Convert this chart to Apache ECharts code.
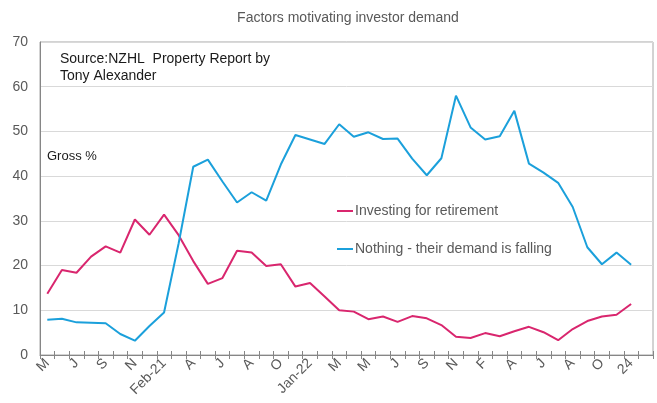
<!DOCTYPE html>
<html>
<head>
<meta charset="utf-8">
<script src="https://cdn.jsdelivr.net/npm/echarts@6/dist/echarts.min.js"></script>
<style>
html,body{margin:0;padding:0;background:#fff;}
#chart{width:657px;height:403px;}
</style>
</head>
<body>
<div id="chart"></div>
<script>
// Month categories (one per survey month; last category has no data)
var categories = ['May-20','Jun-20','Jul-20','Aug-20','Sep-20','Oct-20','Nov-20','Dec-20',
  'Feb-21','Mar-21','Apr-21','May-21','Jun-21','Jul-21','Aug-21','Sep-21','Oct-21','Nov-21',
  'Jan-22','Feb-22','Mar-22','Apr-22','May-22','Jun-22','Jul-22','Aug-22','Sep-22','Oct-22','Nov-22','Dec-22',
  'Feb-23','Mar-23','Apr-23','May-23','Jun-23','Jul-23','Aug-23','Sep-23','Oct-23','Nov-23',
  'Jan-24','Feb-24'];
// Displayed tick labels
var tickLabels = ['M','','J','','S','','N','','Feb-21','','A','','J','','A','','O','',
  'Jan-22','','M','','M','','J','','S','','N','','F','','A','','J','','A','','O','','24',''];
var yTicks = [0,10,20,30,40,50,60,70];

var retirement = [13.7,19.0,18.4,22.0,24.3,22.9,30.3,26.9,31.4,26.8,21.0,15.9,17.2,23.3,22.9,19.9,20.3,15.3,16.1,13.1,
  10.0,9.7,8.0,8.6,7.4,8.7,8.2,6.7,4.1,3.8,4.9,4.2,5.3,6.3,5.1,3.3,5.8,7.6,8.6,9.0,11.4];
var nothing = [7.9,8.1,7.3,7.2,7.1,4.7,3.2,6.5,9.5,25.0,42.1,43.7,38.8,34.1,36.4,34.5,42.6,49.2,48.2,47.2,
  51.6,48.8,49.8,48.3,48.4,43.9,40.2,44.0,58.0,50.9,48.2,48.9,54.6,42.8,40.8,38.5,33.1,24.1,20.3,22.9,20.2];

var seriesNames = ['Investing for retirement','Nothing - their demand is falling'];
var titleText = 'Factors motivating investor demand';
var noteLines = ['Source:NZHL  Property Report by','Tony Alexander'];
var unitText = 'Gross %';

var chart = echarts.init(document.getElementById('chart'), null, {renderer:'canvas'});
var FONT = '"Liberation Sans", Arial, sans-serif';
var option = {
  animation: false,
  backgroundColor: '#ffffff',
  textStyle: {fontFamily: FONT},
  grid: {left: 40, right: 4, top: 42, bottom: 48, show: true, borderColor: '#a6a6a6', borderWidth: 1, containLabel: false},
  legend: {
    orient: 'vertical', left: 337, top: 203, padding: 0, itemWidth: 16, itemHeight: 2, itemGap: 22, icon: 'rect',
    textStyle: {color: '#595959', fontSize: 14, fontFamily: FONT, lineHeight: 16, padding: [0, 0, 0, -3]},
    data: seriesNames
  },
  xAxis: [{
    type: 'category', data: categories, position: 'bottom', boundaryGap: true,
    axisLine: {show: true, lineStyle: {color: '#868686', width: 1}},
    axisTick: {show: true, interval: 0, length: 4, lineStyle: {color: '#868686'}},
    axisLabel: {interval: 0, rotate: 45, margin: 6, color: '#595959', fontSize: 14, fontFamily: FONT,
      formatter: function (v, i) { return tickLabels[i]; }},
    splitLine: {show: false}
  }, {
    type: 'category', data: categories, position: 'bottom', boundaryGap: true,
    axisLine: {show: false},
    axisTick: {show: true, inside: true, interval: 0, length: 4, lineStyle: {color: '#868686'}},
    axisLabel: {show: false},
    splitLine: {show: false}
  }],
  yAxis: {
    type: 'value', min: yTicks[0], max: yTicks[yTicks.length - 1], interval: 10,
    axisLine: {show: true, lineStyle: {color: '#868686'}},
    axisTick: {show: false},
    axisLabel: {color: '#595959', fontSize: 14, margin: 12, fontFamily: FONT},
    splitLine: {show: true, lineStyle: {color: '#d9d9d9', width: 1}}
  },
  series: [{
    name: seriesNames[0], type: 'line', data: retirement, symbol: 'none',
    lineStyle: {color: '#d9266e', width: 2}, itemStyle: {color: '#d9266e'}
  }, {
    name: seriesNames[1], type: 'line', data: nothing, symbol: 'none',
    lineStyle: {color: '#1ba0db', width: 2}, itemStyle: {color: '#1ba0db'}
  }],
  graphic: [
    {type: 'text', x: 348, y: 18, style: {text: titleText, x: 0, y: 0, textAlign: 'center', textVerticalAlign: 'middle', fill: '#595959', font: '14px ' + FONT}},
    {type: 'text', x: 60, y: 59, style: {text: noteLines[0], textAlign: 'left', textVerticalAlign: 'middle', fill: '#1a1a1a', font: '14px ' + FONT}},
    {type: 'text', x: 60, y: 76, style: {text: noteLines[1], textAlign: 'left', textVerticalAlign: 'middle', fill: '#1a1a1a', font: '14px ' + FONT}},
    {type: 'text', x: 47, y: 156, style: {text: unitText, textAlign: 'left', textVerticalAlign: 'middle', fill: '#1a1a1a', font: '13px ' + FONT}}
  ]
};
chart.setOption(option);
</script>
</body>
</html>
